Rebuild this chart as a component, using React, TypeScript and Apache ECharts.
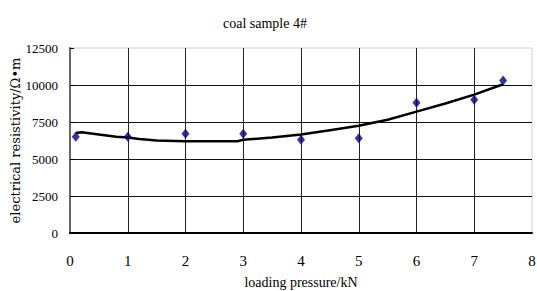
import React, { useEffect, useRef } from "react";
import * as echarts from "echarts";

const titleText = "coal sample 4#";
const xAxisName = "loading pressure/kN";
const yAxisName = "electrical resistivity/Ω•m";

// measured points (navy diamonds)
const pointX = [0.1, 1, 2, 3, 4, 5, 6, 7, 7.5];
const pointY = [6500, 6500, 6700, 6700, 6300, 6400, 8800, 9000, 10300];

// fitted curve (black line)
const curveX = [0.1, 0.2, 0.5, 0.8, 1.0, 1.2, 1.5, 2.0, 2.5, 2.9, 3.0, 3.5, 4.0, 4.5, 5.0, 5.5, 6.0, 6.5, 7.0, 7.5];
const curveY = [6750, 6800, 6650, 6500, 6450, 6350, 6250, 6200, 6200, 6200, 6300, 6450, 6650, 6950, 7250, 7650, 8200, 8750, 9350, 10050];

const FONT = "'Liberation Serif', 'Times New Roman', serif";

export default function App() {
  const ref = useRef<HTMLDivElement>(null);
  useEffect(() => {
    if (!ref.current) return;
    const chart = echarts.init(ref.current, null, { renderer: "svg" });
    chart.setOption({
      animation: false,
      backgroundColor: "#ffffff",
      title: {
        text: titleText,
        left: 218,
        top: 11,
        textStyle: { fontFamily: FONT, fontSize: 14, fontWeight: "normal", color: "#000" },
      },
      grid: {
        left: 70,
        right: 5,
        top: 48,
        bottom: 58,
        show: true,
        borderColor: "#d0d0d0",
        borderWidth: 1,
        containLabel: false,
        outerBoundsMode: "none",
      },
      xAxis: {
        type: "value",
        min: 0,
        max: 8,
        interval: 1,
        name: xAxisName,
        nameLocation: "middle",
        nameGap: 42,
        nameMoveOverlap: false,
        nameTextStyle: { fontFamily: FONT, fontSize: 14, color: "#000" },
        axisLine: { show: true, onZero: false, lineStyle: { color: "#000", width: 2 } },
        axisTick: { show: false },
        axisLabel: { fontFamily: FONT, fontSize: 15, color: "#000", margin: 20 },
        splitLine: { show: true, showMinLine: false, showMaxLine: false, lineStyle: { color: "#222", width: 1 } },
      },
      yAxis: {
        type: "value",
        min: 0,
        max: 12500,
        interval: 2500,
        name: yAxisName,
        nameLocation: "middle",
        nameGap: 48,
        nameMoveOverlap: false,
        nameTextStyle: { fontFamily: "'DejaVu Serif', serif", fontSize: 13, color: "#000" },
        axisLine: { show: true, lineStyle: { color: "#666", width: 2 } },
        axisTick: { show: true, inside: true, length: 4, lineStyle: { color: "#000" } },
        axisLabel: {
          fontFamily: FONT,
          fontSize: 13,
          color: "#000",
          margin: 12,
          formatter: (v: number) => String(v),
        },
        splitLine: { show: true, showMinLine: false, showMaxLine: false, lineStyle: { color: "#111", width: 1 } },
      },
      series: [
        {
          type: "line",
          data: curveX.map((x, i) => [x, curveY[i]]),
          symbol: "none",
          lineStyle: { color: "#000", width: 2.5 },
          z: 3,
        },
        {
          type: "scatter",
          data: pointX.map((x, i) => [x, pointY[i]]),
          symbol: "diamond",
          symbolSize: [8, 10],
          itemStyle: { color: "#000080" },
          z: 4,
        },
      ],
    });
    return () => chart.dispose();
  }, []);
  return (
    <div
      ref={ref}
      style={{ position: "fixed", left: 0, top: 0, width: 537, height: 291, background: "#fff" }}
    />
  );
}
